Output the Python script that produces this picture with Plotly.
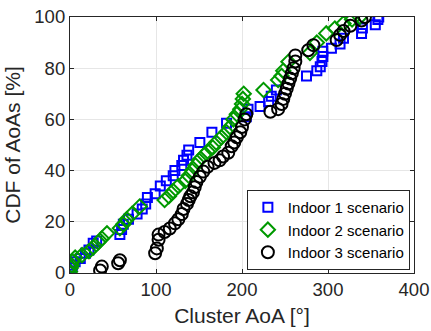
import plotly.graph_objects as go

# Indoor 1 scenario (blue squares)
in1_x = [0, 1, 3, 6, 12, 18, 22, 27, 31, 58, 60, 62, 68, 78, 84, 88, 90, 99, 105, 112, 120, 122,
         130, 132, 136, 138, 151, 165, 182, 205, 207, 221, 231, 234, 240, 275, 287, 291, 293, 294,
         294, 304, 314, 318, 339, 340, 355, 358, 359]
in1_y = [0.5, 2, 3, 4.4, 5.7, 7.7, 9, 11.6, 12.5, 15, 17, 19, 21, 23, 25, 27, 29.5, 31, 34, 36, 38, 40,
         42, 44, 46, 48, 51, 55, 58.5, 61, 64, 65, 67, 69, 71.5, 77, 79, 80.6, 82.6, 84.6,
         86.6, 87.8, 89.5, 91.7, 93.6, 95.7, 97, 99, 100]

# Indoor 2 scenario (green diamonds)
in2_x = [0, 1, 2, 3, 6, 14, 22, 27, 33, 37, 43, 58, 62, 66, 72, 81, 110, 115, 120, 126, 134, 138,
         142, 146, 150, 156, 160, 166, 170, 176, 182, 186, 190, 194, 198, 200, 201, 202, 225, 242,
         246, 248, 254, 279, 287, 298, 308, 318, 328, 337]
in2_y = [0.5, 2, 3, 4.5, 6, 7, 8.5, 10, 12, 13.5, 15.5, 17.5, 19, 21, 23, 26, 28.5, 30, 32, 34, 36, 38,
         40, 42, 44, 46, 47.5, 49, 51, 53, 55, 57, 60, 62, 64, 66, 68, 70, 71.5, 75.4,
         77, 79, 82.5, 86, 90, 93.6, 95.5, 97.5, 99, 100]

# Indoor 3 scenario (black circles)
in3_x = [35, 37, 56, 58, 99, 101, 103, 103, 110, 116, 122, 126, 130, 132, 136, 138, 140, 143, 145,
         147, 151, 155, 160, 168, 174, 178, 184, 188, 191, 194, 198, 200, 203, 205, 233, 242, 246,
         248, 250, 252, 254, 256, 258, 260, 262, 262, 277, 283, 310, 314, 318, 326, 339, 343]
in3_y = [1, 2.5, 3.8, 5, 7.7, 9.6, 13, 15, 16, 17.4, 19.4, 21, 23, 25, 27, 28.5, 30, 31.5, 33.5,
         35.5, 37.6, 39.6, 41.5, 43, 44, 45.5, 47, 49.5, 51, 53, 55, 57, 60, 62, 63, 64, 66,
         68, 70, 72, 74, 76, 78, 80, 82.6, 85, 87, 89, 91, 93, 94.5, 96.6, 98.6, 100]

series_names = ["Indoor 1 scenario", "Indoor 2 scenario", "Indoor 3 scenario"]

x_ticks = [0, 100, 200, 300, 400]
y_ticks = [0, 20, 40, 60, 80, 100]

FONT = "Liberation Sans, Arial, sans-serif"

fig = go.Figure()
fig.add_trace(go.Scatter(x=in1_x, y=in1_y, mode="markers", name=series_names[0],
                         marker=dict(symbol="square-open", size=9, color="#0000ff",
                                     line=dict(width=2, color="#0000ff"))))
fig.add_trace(go.Scatter(x=in2_x, y=in2_y, mode="markers", name=series_names[1],
                         marker=dict(symbol="diamond-open", size=11, color="#009900",
                                     line=dict(width=2, color="#009900"))))
fig.add_trace(go.Scatter(x=in3_x, y=in3_y, mode="markers", name=series_names[2],
                         marker=dict(symbol="circle-open", size=12, color="#000000",
                                     line=dict(width=2, color="#000000"))))

axis_common = dict(
    showline=True, linecolor="#262626", linewidth=1.2, mirror="ticks",
    ticks="inside", ticklen=4, tickcolor="#262626",
    showgrid=True, gridcolor="#e6e6e6", gridwidth=1, zeroline=False,
    automargin=False, ticklabeloverflow="allow",
    tickfont=dict(family=FONT, size=18.5, color="#262626"),
)

fig.update_layout(
    width=431, height=331,
    margin=dict(l=70, r=17, t=17, b=58, autoexpand=False),
    paper_bgcolor="white", plot_bgcolor="white",
    xaxis=dict(range=[0, 400], tickvals=x_ticks, **axis_common,
               title=dict(text="Cluster AoA [°]", standoff=9,
                          font=dict(family=FONT, size=21, color="#262626"))),
    yaxis=dict(range=[0, 100], tickvals=y_ticks, **axis_common,
               title=dict(text="CDF of AoAs [%]", standoff=7,
                          font=dict(family=FONT, size=21, color="#262626"))),
    legend=dict(x=0.988, y=0.012, xanchor="right", yanchor="bottom",
                bgcolor="white", bordercolor="#262626", borderwidth=1,
                font=dict(family=FONT, size=15, color="#000000"),
                tracegroupgap=0, itemwidth=30),
    showlegend=True,
)

fig.write_html("out.html",
               config={"displayModeBar": False},
               post_script="document.body.style.margin='0';document.body.style.overflow='hidden';")
